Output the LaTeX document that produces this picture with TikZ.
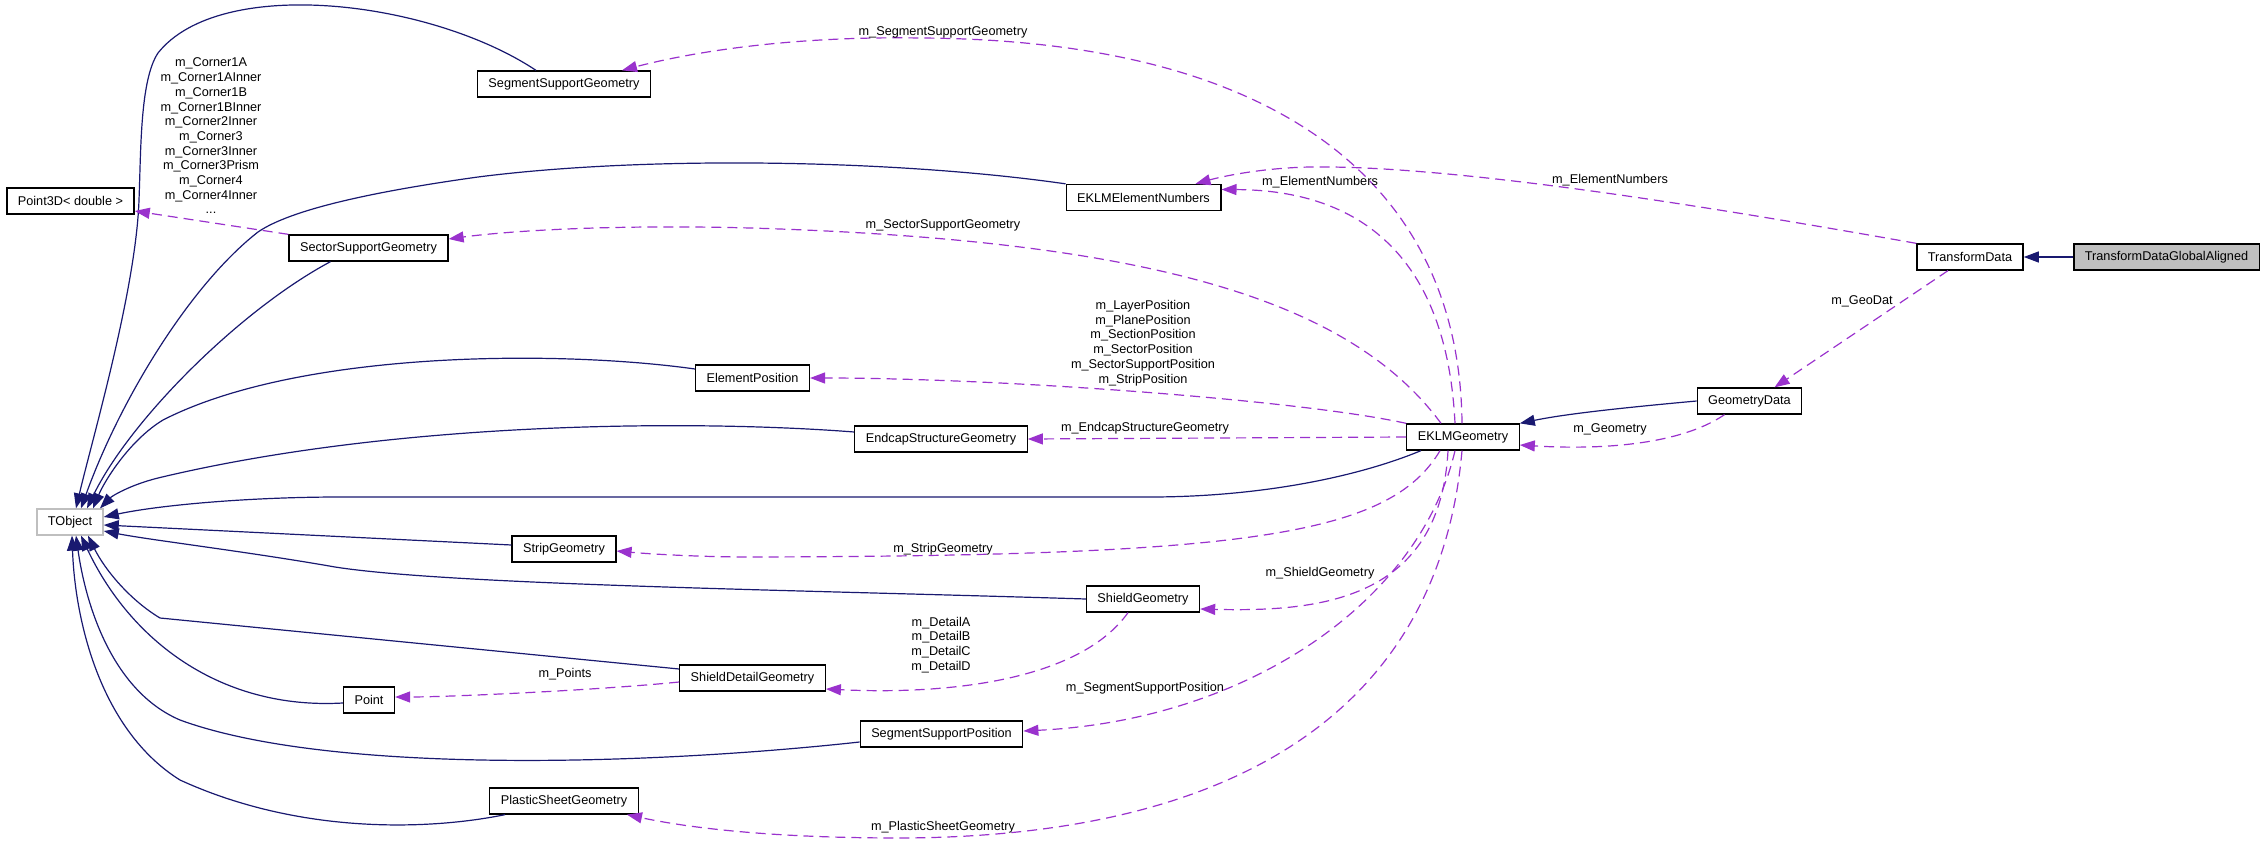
\documentclass[tikz,border=0pt]{standalone}
\usepackage{fontspec}
\setmainfont{Liberation Sans}
\usepackage{xcolor}
\usetikzlibrary{arrows.meta}
\definecolor{inheritblue}{HTML}{191970}
\definecolor{memberpurple}{HTML}{9A32CD}
\definecolor{basegray}{HTML}{BFBFBF}

\begin{document}
\begin{tikzpicture}[
    x=1pt, y=-1pt,
    box/.style={draw=black, line width=1.3pt, fill=white, inner xsep=11pt, inner ysep=0pt, minimum height=26pt, font=\fontsize{12.7}{14.7}\selectfont},
    base box/.style={box, draw=basegray},
    self box/.style={box, fill=basegray},
    edge label/.style={inner sep=0pt, align=center, font=\fontsize{12.7}{14.7}\selectfont},
    inherit/.style={draw=inheritblue, line width=1.2pt, -{Triangle[length=15pt, width=11pt]}},
    member/.style={draw=memberpurple, line width=1.2pt, dash pattern=on 10pt off 6pt, -{Triangle[length=15pt, width=11pt]}}
]
\useasboundingbox (0,0) rectangle (2264,848);

\node[base box] (TO) at (70,522) {TObject};
\node[box] (P3D) at (70.5,201) {Point3D< double >};
\node[box] (SSG) at (564,84) {SegmentSupportGeometry};
\node[box] (SSecG) at (368.5,248) {SectorSupportGeometry};
\node[box] (EEN) at (1143.5,197.5) {EKLMElementNumbers};
\node[box] (TD) at (1970,257) {TransformData};
\node[self box] (TDGA) at (2166.5,257) {TransformDataGlobalAligned};
\node[box] (EP) at (752.5,378) {ElementPosition};
\node[box] (GD) at (1749.5,401) {GeometryData};
\node[box] (ESG) at (941,439) {EndcapStructureGeometry};
\node[box] (EKLM) at (1463,437) {EKLMGeometry};
\node[box] (SG) at (564,549) {StripGeometry};
\node[box] (ShG) at (1143,599) {ShieldGeometry};
\node[box] (SDG) at (752.5,678) {ShieldDetailGeometry};
\node[box] (Pt) at (369,700) {Point};
\node[box] (SSP) at (941.5,734) {SegmentSupportPosition};
\node[box] (PSG) at (564,801) {PlasticSheetGeometry};

% inheritance
\draw[inherit] (TDGA) -- (TD);
\draw[inherit] (GD.west) .. controls (1620,408) and (1565,414) .. (EKLM.north east);
\draw[inherit] ([xshift=-28pt]SSG.north) .. controls (430,0) and (220,-25) .. (158,53) .. controls (140,80) and (141,150) .. (139,200) .. controls (136,290) and (92,440) .. ([xshift=6pt]TO.north);
\draw[inherit] (EEN.north west) .. controls (900,160) and (650,155) .. (478,177) .. controls (370,192) and (290,210) .. (258,232) .. controls (190,285) and (120,400) .. ([xshift=11pt]TO.north);
\draw[inherit] ([xshift=-38pt]SSecG.south) .. controls (240,310) and (130,420) .. ([xshift=17pt]TO.north);
\draw[inherit] ([yshift=9pt]EP.west) .. controls (560,350) and (300,350) .. (163,420) .. controls (130,440) and (105,480) .. ([xshift=23pt]TO.north);
\draw[inherit] ([yshift=7pt]ESG.west) .. controls (700,420) and (400,420) .. (158,478) .. controls (130,485) and (112,496) .. ([xshift=30pt]TO.north);
\draw[inherit] ([xshift=-42pt]EKLM.south) .. controls (1350,480) and (1250,497) .. (1150,497) -- (340,497) .. controls (250,497) and (160,505) .. ([yshift=5pt]TO.east);
\draw[inherit] ([yshift=4pt]SG.west) -- ([yshift=-3pt]TO.east);
\draw[inherit] (ShG.west) .. controls (800,590) and (450,585) .. (335,567) .. controls (250,552) and (150,540) .. ([yshift=-9pt]TO.east);
\draw[inherit] ([yshift=9pt]SDG.west) -- (160,618) .. controls (130,600) and (105,570) .. ([xshift=18pt]TO.south);
\draw[inherit] ([yshift=-3pt]Pt.west) .. controls (220,710) and (130,640) .. ([xshift=11pt]TO.south);
\draw[inherit] ([yshift=-8pt]SSP.west) .. controls (650,765) and (330,775) .. (180,720) .. controls (110,690) and (85,600) .. ([xshift=6pt]TO.south);
\draw[inherit] ([xshift=-59pt]PSG.south) .. controls (430,830) and (300,835) .. (180,780) .. controls (100,730) and (75,620) .. ([xshift=2pt]TO.south);

% members
\draw[member] ([xshift=-1pt]EKLM.north) .. controls (1460,200) and (1300,40) .. (920,38) .. controls (800,36) and (700,50) .. ([xshift=58pt]SSG.north);
\draw[member] ([xshift=-8pt]EKLM.north) .. controls (1445,220) and (1320,190) .. ([yshift=8pt]EEN.east);
\draw[member] (TD.north west) .. controls (1700,205) and (1450,165) .. (1310,167) .. controls (1260,168) and (1220,177) .. ([xshift=52pt]EEN.north);
\draw[member] ([xshift=-22pt]EKLM.north) .. controls (1350,300) and (1150,240) .. (750,228) .. controls (600,224) and (500,232) .. ([yshift=9pt]SSecG.east);
\draw[member] (EKLM.north west) .. controls (1300,400) and (1000,378) .. (EP.east);
\draw[member] (EKLM.west) -- (ESG.east);
\draw[member] ([xshift=-23pt]EKLM.south) .. controls (1390,535) and (1250,556) .. (750,557) .. controls (700,557) and (650,554) .. ([yshift=-2pt]SG.east);
\draw[member] ([xshift=-15pt]EKLM.south) .. controls (1440,600) and (1320,612) .. ([yshift=-10pt]ShG.east);
\draw[member] ([xshift=-8pt]EKLM.south) .. controls (1420,600) and (1250,720) .. ([yshift=3pt]SSP.east);
\draw[member] ([xshift=-1pt]EKLM.south) .. controls (1440,700) and (1250,837) .. (900,838) .. controls (760,838) and (680,826) .. ([xshift=63pt]PSG.south);
\draw[member] ([xshift=-15pt]ShG.south) .. controls (1080,680) and (950,695) .. ([yshift=-11pt]SDG.east);
\draw[member] ([yshift=-4pt]SDG.west) .. controls (600,690) and (450,697) .. ([yshift=3pt]Pt.east);
\draw[member] (SSecG.north west) -- ([yshift=-10pt]P3D.east);
\draw[member] ([xshift=-22pt]TD.south) -- ([xshift=25pt]GD.north);
\draw[member] ([xshift=-25pt]GD.south) .. controls (1680,445) and (1600,450) .. ([yshift=-8pt]EKLM.east);

% labels
\node[edge label] (lSSG) at (943,32) {m\_SegmentSupportGeometry};
\node[edge label] (lEENa) at (1320,182) {m\_ElementNumbers};
\node[edge label] (lEENb) at (1610,180) {m\_ElementNumbers};
\node[edge label] (lSSecG) at (943,225) {m\_SectorSupportGeometry};
\node[edge label] (lCorner) at (211,136) {m\_Corner1A\\m\_Corner1AInner\\m\_Corner1B\\m\_Corner1BInner\\m\_Corner2Inner\\m\_Corner3\\m\_Corner3Inner\\m\_Corner3Prism\\m\_Corner4\\m\_Corner4Inner\\...};
\node[edge label] (lEP) at (1143,343) {m\_LayerPosition\\m\_PlanePosition\\m\_SectionPosition\\m\_SectorPosition\\m\_SectorSupportPosition\\m\_StripPosition};
\node[edge label] (lGeoDat) at (1862,301) {m\_GeoDat};
\node[edge label] (lESG) at (1145,428) {m\_EndcapStructureGeometry};
\node[edge label] (lGeom) at (1610,429) {m\_Geometry};
\node[edge label] (lSG) at (943,549) {m\_StripGeometry};
\node[edge label] (lShG) at (1320,573) {m\_ShieldGeometry};
\node[edge label] (lDetail) at (941,645) {m\_DetailA\\m\_DetailB\\m\_DetailC\\m\_DetailD};
\node[edge label] (lPoints) at (565,674) {m\_Points};
\node[edge label] (lSSP) at (1145,688) {m\_SegmentSupportPosition};
\node[edge label] (lPSG) at (943,827) {m\_PlasticSheetGeometry};
\end{tikzpicture}
\end{document}
